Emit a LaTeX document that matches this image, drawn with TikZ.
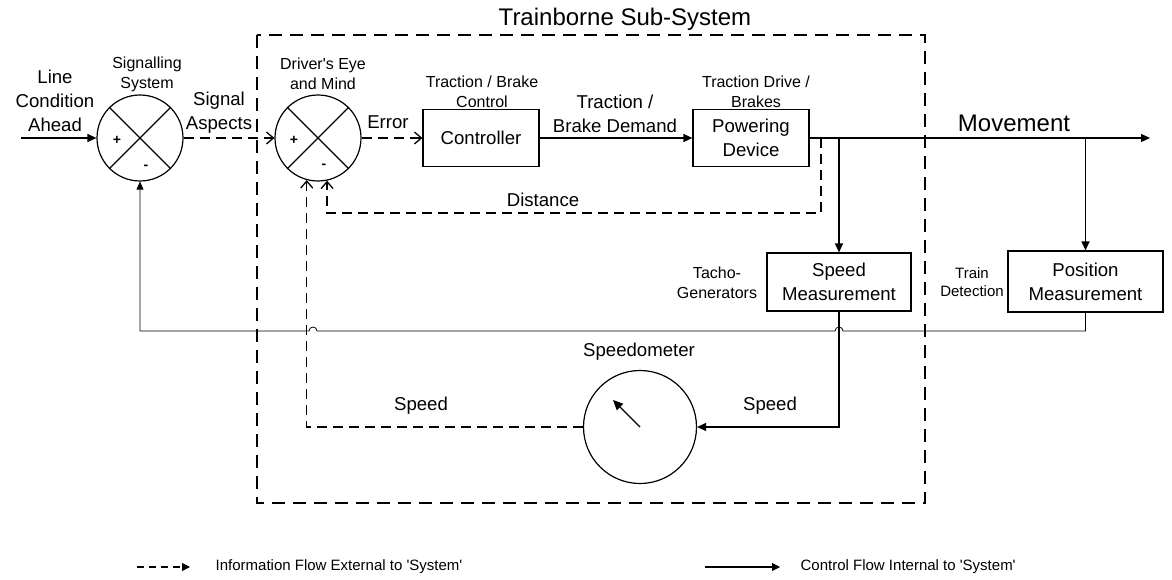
\documentclass[tikz,border=0pt]{standalone}
\usepackage{fontspec}
\setmainfont{Liberation Sans}[Ligatures=TeXOff]
\usetikzlibrary{arrows.meta}
\begin{document}
\begin{tikzpicture}[x=1pt,y=-1pt,
  line width=1.3pt,
  med/.style={font=\fontsize{18.6}{24}\selectfont, align=center, inner sep=0pt},
  sml/.style={font=\fontsize{16}{20}\selectfont, align=center, inner sep=0pt},
  lrg/.style={font=\fontsize{24}{28}\selectfont, inner sep=0pt},
  leg/.style={font=\fontsize{15}{18}\selectfont, inner sep=0pt, anchor=west},
  box/.style={draw, line width=1.2pt, inner sep=0pt},
  sumc/.style={draw, circle, line width=1.2pt, minimum size=86pt, inner sep=0pt},
  sign/.style={font=\fontsize{14}{14}\selectfont\bfseries, inner sep=0pt},
  filltip/.style={-{Triangle[length=9pt,width=8pt]}},
  opentip/.style={-{Straight Barb[length=7pt,width=12pt]}},
  info/.style={dash pattern=on 10pt off 6pt},
  thinline/.style={line width=0.8pt},
  frame/.style={line width=2pt, dash pattern=on 13pt off 8pt},
]
\useasboundingbox (0,0) rectangle (1172,580);

% trainborne frame
\draw[frame] (257,35) rectangle (925,503);
\node[lrg] (title) at (625,19) {Trainborne Sub-System};

% summing junctions
\node[sumc] (s1) at (140,138) {};
\node[sumc] (s2) at (318,138) {};
\foreach \s in {s1,s2}{
  \draw[line width=1.2pt] (\s.north west) -- (\s.south east);
  \draw[line width=1.2pt] (\s.north east) -- (\s.south west);
}
\node[sign] (p1) at (117,140) {+};
\node[sign] (m1) at (146,167) {-};
\node[sign] (p2) at (294,140) {+};
\node[sign] (m2) at (324,166) {-};

% boxes
\node[box, minimum width=116pt, minimum height=57pt, med] (ctrl) at (481,138) {Controller};
\node[box, minimum width=116pt, minimum height=57pt, med] (pow) at (751,138) {Powering\\Device};
\node[box, minimum width=144pt, minimum height=58pt, med] (spd) at (839,282) {Speed\\Measurement};
\node[box, minimum width=155pt, minimum height=61pt, med] (pos) at (1085.5,281.5) {Position\\Measurement};
\node[draw, circle, line width=1.2pt, minimum size=113pt, inner sep=0pt] (meter) at (640,427) {};
\draw[-{Triangle[length=10pt,width=9pt]}, line width=1.3pt] (meter.center) -- ++(-27,-27);

% labels
\node[med] (lca) at (55,101) {Line\\Condition\\Ahead};
\node[sml] (sigsys) at (147,74) {Signalling\\System};
\node[med] (sasp) at (219,113) {Signal\\Aspects};
\node[sml] (drv) at (323,74) {Driver's Eye\\and Mind};
\node[med] (err) at (388,122) {Error};
\node[sml] (tbc) at (482,92) {Traction / Brake\\Control};
\node[med] (tbd) at (615,114) {Traction /\\Brake Demand};
\node[sml] (tdb) at (756,92) {Traction Drive /\\Brakes};
\node[lrg] (mov) at (1014,123) {Movement};
\node[med] (dist) at (543,200) {Distance};
\node[sml] (tacho) at (717,283) {Tacho-\\Generators};
\node[sml, font=\fontsize{15}{18}\selectfont] (train) at (972,282) {Train\\Detection};
\node[med] (spdm) at (639,352) {Speedometer};
\node[med] (spdl) at (421,406) {Speed};
\node[med] (spdr) at (770,406) {Speed};

% coordinates
\coordinate (lcin) at (21,138);
\coordinate (mvend) at (1150,138);
\coordinate (dtap) at (821,138);
\coordinate (dcorner) at (821,213);

% connectors
\draw[filltip] (lcin) -- (s1.west);
\draw[info, opentip] (s1.east) -- (s2.west);
\draw[info, opentip] (s2.east) -- (ctrl.west);
\draw[filltip] (ctrl.east) -- (pow.west);
\draw[filltip] (pow.east) -- (mvend);
\draw[info, opentip] (dtap) -- (dcorner) -| (s2.-78);
\draw[filltip] (spd.north |- pow.east) -- (spd.north);
\draw[filltip] (pos.north |- pow.east) -- (pos.north);
\draw[filltip] (spd.south) |- (meter.east);
\draw[info, opentip] (meter.west) -| (s2.-105);

% signalling feedback (thin)
\coordinate (fb0) at (1085.5,331);
\coordinate (fb1) at (843,331);
\coordinate (fb2) at (835,331);
\coordinate (fb3) at (317,331);
\coordinate (fb4) at (309,331);
\draw[thinline, -{Triangle[length=8pt,width=7pt]}] (pos.south) -- (fb0) -- (fb1)
  arc[start angle=0, end angle=-180, radius=4] -- (fb3)
  arc[start angle=0, end angle=-180, radius=4] -- (s1.south |- fb4) -- (s1.south);

% legend
\coordinate (la) at (137,567);
\coordinate (lb) at (190,567);
\coordinate (lc) at (705,567);
\coordinate (ld) at (780,567);
\draw[dash pattern=on 7pt off 5pt, line width=1.1pt, -{Triangle[length=8pt,width=8pt]}] (la) -- (lb);
\draw[line width=1.1pt, -{Triangle[length=8pt,width=8pt]}] (lc) -- (ld);
\node[leg] (lt1) at (215,567) {Information Flow External to 'System'};
\node[leg] (lt2) at (800,567) {Control Flow Internal to 'System'};
\end{tikzpicture}
\end{document}
